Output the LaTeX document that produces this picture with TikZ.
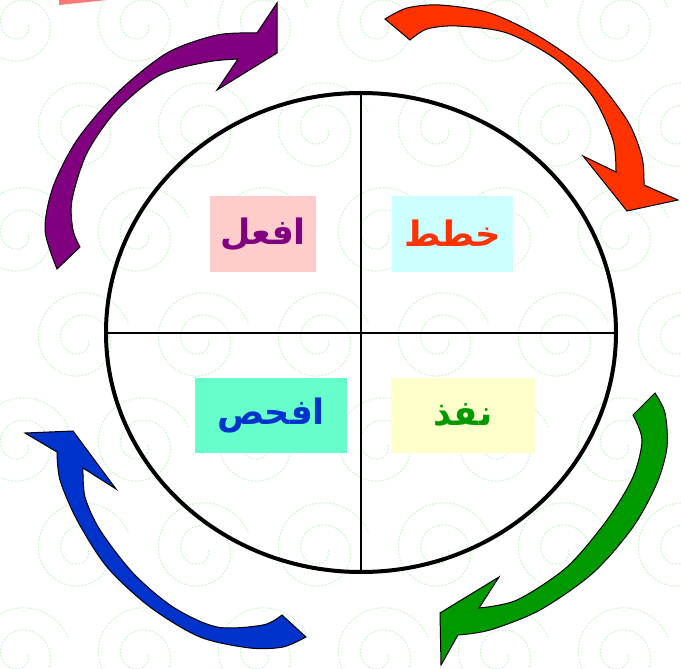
\documentclass[tikz,border=0pt]{standalone}
\usepackage{fontspec}
\newfontfamily\arabicfont[Script=Arabic]{DejaVu Sans}
\TeXXeTstate=1
\definecolor{cPurple}{HTML}{800080}
\definecolor{cRed}{HTML}{FF3300}
\definecolor{cBlue}{HTML}{0033CC}
\definecolor{cGreen}{HTML}{009900}
\definecolor{bPink}{HTML}{FFCCCC}
\definecolor{bCyan}{HTML}{CCFFFF}
\definecolor{bAqua}{HTML}{66FFCC}
\definecolor{bYellow}{HTML}{FFFFCC}
\definecolor{spiralc}{HTML}{CCF5CC}
\definecolor{corner}{HTML}{FF7777}
\tikzset{
  lbl/.style={inner sep=0pt, minimum height=76pt, font=\arabicfont\bfseries\fontsize{35}{42}\selectfont},
  blockarrow/.style={draw=black, line width=1pt, line join=miter},
  spiral/.style={draw=spiralc, line width=1pt, dash pattern=on 2pt off 1.5pt},
}
\begin{document}
\begin{tikzpicture}[x=1pt,y=-1pt]
\useasboundingbox (0,0) rectangle (681,669);
\fill[white] (0,0) rectangle (681,669);
% background spirals
\foreach \j in {0,...,6}{
  \foreach \i in {0,...,6}{
    \pgfmathsetmacro{\cx}{20+120*\i+mod(\j,2)*60}
    \pgfmathsetmacro{\cy}{25+105*\j}
    \draw[spiral] plot[domain=0:700, samples=90, smooth, variable=\t]
      ({\cx+(8+0.062*\t)*cos(\t)}, {\cy+(8+0.062*\t)*sin(\t)});
  }
}
% corner fragment
\fill[corner] (59,0) -- (59,5) -- (107,0) -- cycle;
% circle and cross
\coordinate (c) at (361,332.5);
\coordinate (top) at (361,93);
\coordinate (bot) at (361,572);
\coordinate (lft) at (106,332.5);
\coordinate (rgt) at (616,332.5);
\draw[line width=2pt] (top) -- (bot);
\draw[line width=2pt] (lft) -- (rgt);
\draw[line width=4pt] (c) ellipse [x radius=255, y radius=239.5];
% labels
\node[lbl, fill=bPink, minimum width=106pt, text=cPurple] (act) at (263,234) {\raisebox{2pt}{\beginR افعل\endR}};
\node[lbl, fill=bCyan, minimum width=121pt, text=cRed] (plan) at (452.5,234) {\raisebox{2pt}{\beginR خطط\endR}};
\node[lbl, fill=bAqua, minimum width=152pt, minimum height=75pt, text=cBlue] (check) at (271,415.5) {\raisebox{2pt}{\beginR افحص\endR}};
\node[lbl, fill=bYellow, minimum width=144pt, minimum height=75pt, text=cGreen] (do) at (463,415.5) {\raisebox{2pt}{\beginR نفذ\endR}};
% purple arrow
\filldraw[blockarrow, fill=cPurple] (57,269) -- plot[smooth] coordinates {(57,269)(45,230)(53,187)(77,140)(117,93)(167,53)(217,35)(257,33)}
  -- (277,3) -- (277,53) -- (217,90) -- (238,59)
  -- plot[smooth] coordinates {(238,59)(207,62)(160,75)(117,110)(87,153)(72,200)(73,230)(80,247)} -- cycle;
% red arrow
\filldraw[blockarrow, fill=cRed] (385,19) -- plot[smooth] coordinates {(385,19)(407,8)(440,5)(490,13)(540,37)(590,73)(627,120)(642,157)(644,185)}
  -- (678,200) -- (627,211) -- (583,156) -- (616,172)
  -- plot[smooth] coordinates {(616,172)(613,140)(593,97)(557,60)(507,33)(457,26)(427,29)(410,40)} -- cycle;
% green arrow
\filldraw[blockarrow, fill=cGreen] (633,415) -- (655,393) -- plot[smooth] coordinates {(655,393)(665,413)(667,447)(657,483)(633,527)(593,573)(540,610)(490,630)(458,635)}
  -- (441,665) -- (440,613) -- (499,577) -- (479,608)
  -- plot[smooth] coordinates {(479,608)(517,600)(567,567)(607,520)(633,477)(642,440)(633,415)} -- cycle;
% blue arrow
\filldraw[blockarrow, fill=cBlue] (282,615) -- (306,637) -- plot[smooth] coordinates {(306,637)(283,647)(250,648)(200,637)(150,607)(107,567)(77,520)(60,480)(57,452)}
  -- (25,433) -- (73,431) -- (116,489) -- (83,468)
  -- plot[smooth] coordinates {(83,468)(85,497)(100,530)(133,573)(173,607)(217,627)(263,625)(282,615)} -- cycle;
\end{tikzpicture}
\end{document}
